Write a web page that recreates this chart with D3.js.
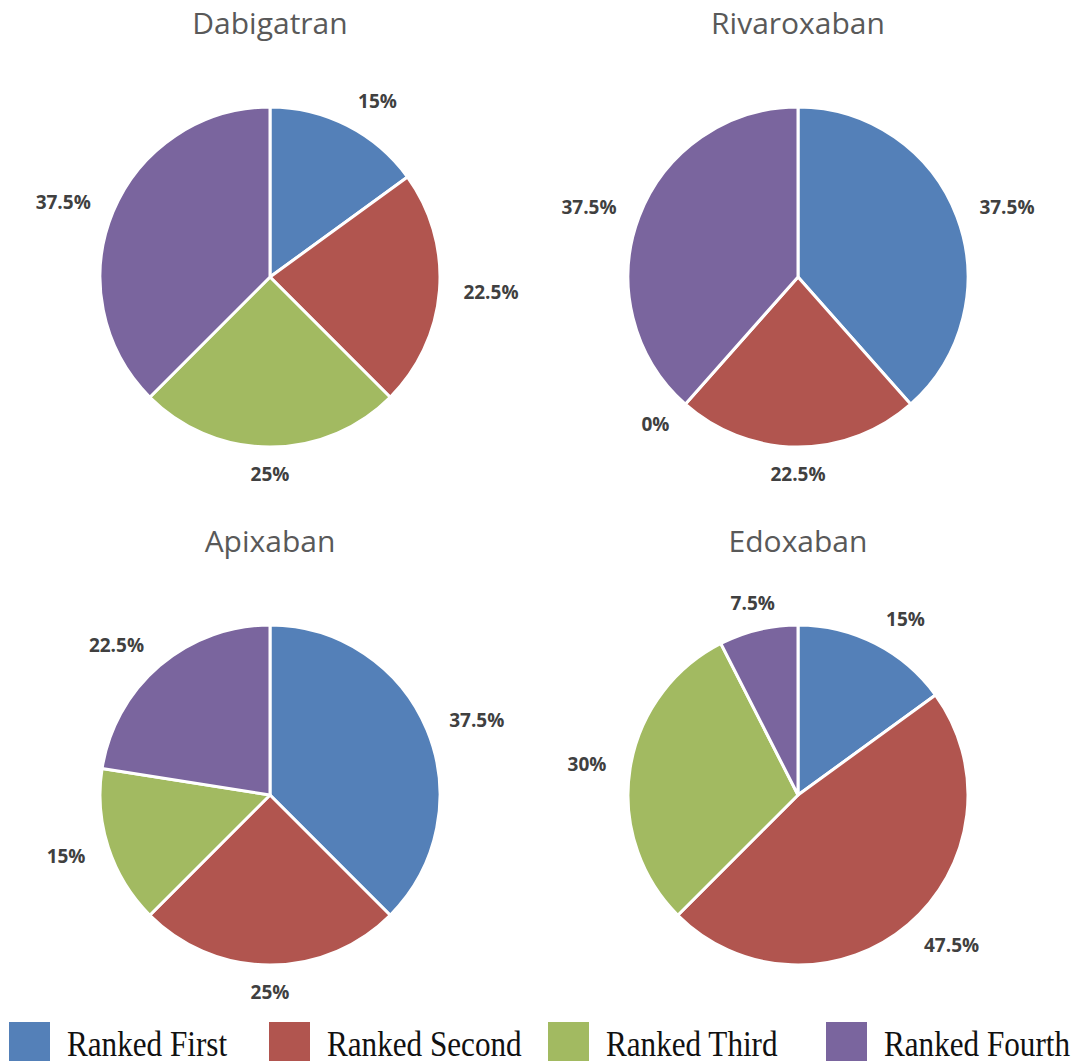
<!DOCTYPE html>
<html>
<head>
<meta charset="utf-8">
<script src="https://cdn.jsdelivr.net/npm/d3@7"></script>
<style>
  html, body { margin: 0; padding: 0; background: #fff; }
  svg { display: block; }
</style>
</head>
<body>
<svg id="chart" width="1081" height="1063"></svg>
<script>
// Ranking categories and their colours
const categories = ["Ranked First", "Ranked Second", "Ranked Third", "Ranked Fourth"];
const colors = ["#5480B8", "#B1554F", "#A2BA61", "#7A659E"];

// Drugs (one pie each) and share of respondents per ranking, in %
const drugs = ["Dabigatran", "Rivaroxaban", "Apixaban", "Edoxaban"];
const dabigatran  = [15, 22.5, 25, 37.5];
const rivaroxaban = [37.5, 22.5, 0, 37.5];
const apixaban    = [37.5, 25, 15, 22.5];
const edoxaban    = [15, 47.5, 30, 7.5];
const seriesValues = [dabigatran, rivaroxaban, apixaban, edoxaban];

const svg = d3.select("#chart");
const color = d3.scaleOrdinal().domain(categories).range(colors);

// 2x2 grid layout
const col = d3.scalePoint().domain([0, 1]).range([270, 798]);
const row = d3.scalePoint().domain([0, 1]).range([277, 795]);
const R = 170;
const labelR = R + 27;

const pie = d3.pie().sort(null).value(d => d.value);
const arc = d3.arc().innerRadius(0).outerRadius(R);

drugs.forEach((name, i) => {
  const cx = col(i % 2), cy = row(Math.floor(i / 2));
  const g = svg.append("g").attr("transform", `translate(${cx},${cy})`);
  const data = categories.map((c, k) => ({ cat: c, value: seriesValues[i][k] }));
  const arcs = pie(data);

  g.selectAll("path.slice")
    .data(arcs.filter(d => d.value > 0))
    .join("path")
    .attr("class", "slice")
    .attr("d", arc)
    .attr("fill", d => color(d.data.cat))
    .attr("stroke", "#fff")
    .attr("stroke-width", 3)
    .attr("stroke-linejoin", "round");

  // Value labels just outside the rim, vertically centred on the spoke
  g.selectAll("text.val")
    .data(arcs)
    .join("text")
    .attr("class", "val")
    .each(function(d) {
      const a = (d.startAngle + d.endAngle) / 2;
      const s = Math.sin(a), c = -Math.cos(a);
      const anchor = s > 0.35 ? "start" : (s < -0.35 ? "end" : "middle");
      d3.select(this)
        .attr("x", (labelR - 3) * s)
        .attr("y", labelR * c + 7)
        .attr("text-anchor", anchor);
    })
    .attr("font-family", "'Open Sans', sans-serif")
    .attr("font-weight", 700)
    .attr("font-size", 19)
    .attr("fill", "#404040")
    .text(d => d.data.value + "%");

  svg.append("text")
    .attr("x", cx)
    .attr("y", cy - 243)
    .attr("text-anchor", "middle")
    .attr("font-family", "'Open Sans', sans-serif")
    .attr("font-size", 30)
    .attr("fill", "#595959")
    .text(name);
});

// Legend along the bottom
const legendX = [9, 269, 548, 826];
const legend = svg.append("g").attr("transform", "translate(0,1022)");
categories.forEach((c, k) => {
  const item = legend.append("g").attr("transform", `translate(${legendX[k]},0)`);
  item.append("rect")
    .attr("width", 41).attr("height", 39)
    .attr("fill", color(c));
  item.append("text")
    .attr("transform", "translate(58,34) scale(0.89,1)")
    .attr("font-family", "'Liberation Serif', 'Times New Roman', serif")
    .attr("font-size", 35)
    .attr("fill", "#111")
    .text(c);
});
</script>
</body>
</html>
